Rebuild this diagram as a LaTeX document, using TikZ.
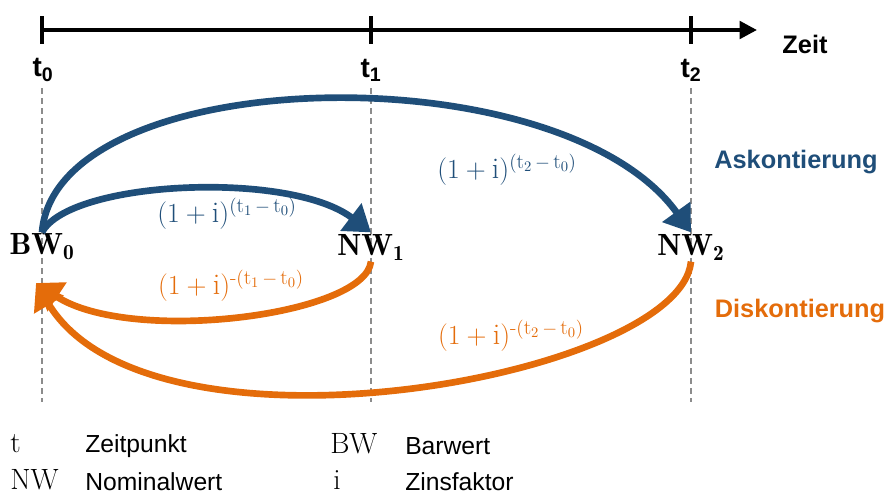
\documentclass[tikz,border=0pt]{standalone}
\usepackage{amsmath}
\usepackage{fontspec}
\setsansfont{Liberation Sans}
\usetikzlibrary{arrows.meta}
\definecolor{askblue}{HTML}{1F4E79}
\definecolor{diskorange}{HTML}{E46C0A}
\definecolor{guidegray}{HTML}{8C8C8C}
\tikzset{
  axisline/.style={line width=3pt, -{Triangle[length=13pt,width=13pt]}},
  tickmark/.style={line width=2.5pt},
  guideline/.style={draw=guidegray, line width=1.1pt, dash pattern=on 4.5pt off 3pt},
  askarr/.style={draw=askblue, line width=5pt, -{Triangle[length=19pt,width=25pt]}},
  diskarr/.style={draw=diskorange, line width=5pt, -{Triangle[length=19pt,width=25pt]}},
  timelbl/.style={font=\fontsize{21}{24}\selectfont\sffamily\bfseries},
  valnode/.style={font=\fontsize{23}{26}\selectfont, inner sep=1pt},
  factorlbl/.style={font=\fontsize{22.5}{26}\selectfont},
  kindlbl/.style={font=\fontsize{19}{22}\selectfont\sffamily\bfseries},
  legsym/.style={anchor=west, font=\fontsize{22}{24}\selectfont, inner sep=0pt},
  legtext/.style={anchor=west, font=\fontsize{18.5}{22}\selectfont\sffamily, inner sep=0pt},
}

\begin{document}
\begin{tikzpicture}[x=0.75pt, y=-0.75pt]
\useasboundingbox (0,0) rectangle (893,496);

% Zeitachse
\coordinate (axstart) at (42,30);
\coordinate (axend) at (757,30);
\draw[axisline] (axstart) -- (axend);
\foreach \xx in {42,371,691}
  \draw[tickmark] (\xx,16) -- (\xx,44);
\node[timelbl, font=\fontsize{19}{22}\selectfont\sffamily\bfseries] (zeit) at (805,44) {Zeit};
\node[timelbl] (t0) at (43,70) {t\textsubscript{0}};
\node[timelbl] (t1) at (371,70) {t\textsubscript{1}};
\node[timelbl] (t2) at (691,70) {t\textsubscript{2}};

% Hilfslinien
\foreach \xx in {42,371,691}
  \draw[guideline] (\xx,88) -- (\xx,402);

% Werte
\node[valnode] (bw0) at (42,247) {$\mathbf{BW_0}$};
\node[valnode] (nw1) at (371,247) {$\mathbf{NW_1}$};
\node[valnode] (nw2) at (691,247) {$\mathbf{NW_2}$};

% Askontierung
\draw[askarr] (bw0.north) .. controls +(28,-52) and +(-81,-62) .. (nw1.north);
\draw[askarr] (bw0.north) .. controls +(14,-170) and +(-131,-182) .. (nw2.north);
\node[factorlbl, text=askblue] (fa1) at (227,214) {$(1+\mathrm{i})^{(\mathrm{t}_1\,-\,\mathrm{t}_0)}$};
\node[factorlbl, text=askblue] (fa2) at (507,170) {$(1+\mathrm{i})^{(\mathrm{t}_2\,-\,\mathrm{t}_0)}$};
\node[kindlbl, text=askblue] (ask) at (796,162) {Askontierung};

% Diskontierung
\coordinate (bwin) at (36,283);
\draw[diskarr] (nw1.south) .. controls +(-6,54) and +(94,62) .. (bwin);
\draw[diskarr] (nw2.south) .. controls +(-11,116) and +(114,190) .. (bwin);
\node[factorlbl, text=diskorange] (fd1) at (231,286) {$(1+\mathrm{i})^{\text{-}(\mathrm{t}_1\,-\,\mathrm{t}_0)}$};
\node[factorlbl, text=diskorange] (fd2) at (511,336) {$(1+\mathrm{i})^{\text{-}(\mathrm{t}_2\,-\,\mathrm{t}_0)}$};
\node[kindlbl, text=diskorange] (disk) at (800,311) {Diskontierung};

% Legende
\node[legsym] (lt) at (10,444) {t};
\node[legtext] (ltx) at (85,446) {Zeitpunkt};
\node[legsym] (lbw) at (330,444) {BW};
\node[legtext] (lbwx) at (405,446) {Barwert};
\node[legsym] (lnw) at (10,480) {NW};
\node[legtext] (lnwx) at (85,482) {Nominalwert};
\node[legsym] (li) at (333,480) {i};
\node[legtext] (lix) at (405,482) {Zinsfaktor};
\end{tikzpicture}
\end{document}
